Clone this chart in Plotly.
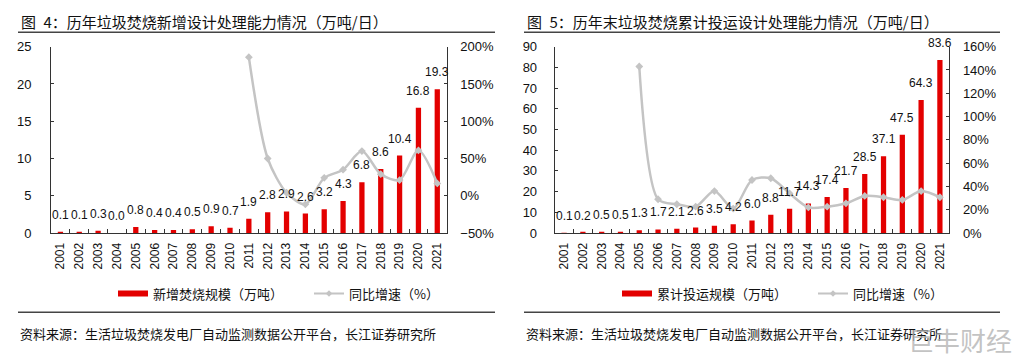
import plotly.graph_objects as go

W, H = 1024, 364
OFF = 8  # page body margin offset in the rendered page

years = [str(y) for y in range(2001, 2022)]

# Figure 4: newly added design capacity (万吨/日)
new_cap = [0.1, 0.1, 0.3, 0.0, 0.8, 0.4, 0.4, 0.5, 0.9, 0.7, 1.9, 2.8, 2.9, 2.6,
           3.2, 4.3, 6.8, 8.6, 10.4, 16.8, 19.3]
new_growth = [None, None, None, None, None, None, None, None, None, None,
              186, 50, 4, -11.5, 24, 35, 60, 29, 21, 61, 16.5]

# Figure 5: cumulative operating design capacity (万吨/日)
cum_cap = [0.1, 0.2, 0.5, 0.5, 1.3, 1.7, 2.1, 2.6, 3.5, 4.2, 6.0, 8.8, 11.7, 14.3,
           17.4, 21.7, 28.5, 37.1, 47.5, 64.3, 83.6]
cum_growth = [None, None, None, None, 143, 29, 24.7, 22.6, 36, 21, 45.5, 47, 34,
              22, 22.6, 25.5, 31.8, 30.7, 28.4, 36, 30.7]

titles = ["图\u20024：历年垃圾焚烧新增设计处理能力情况（万吨/日）",
          "图\u20025：历年末垃圾焚烧累计投运设计处理能力情况（万吨/日）"]
bar_names = ["新增焚烧规模（万吨）", "累计投运规模（万吨）"]
line_name = "同比增速（%）"
source = "资料来源：生活垃圾焚烧发电厂自动监测数据公开平台，长江证券研究所"

RED = "#E30000"
GRAY = "#C4C4C4"
NUMFONT = "Liberation Sans, Arial, sans-serif"
CJK = "Noto Sans CJK SC, sans-serif"

def px(x):
    return (x - OFF) / W

def py(y):
    return 1 - (y - OFF) / H

fig = go.Figure()

panels = [
    dict(bars=new_cap, growth=new_growth, xa="x", ya="y", ya2="y2", legend="legend"),
    dict(bars=cum_cap, growth=cum_growth, xa="x2", ya="y3", ya2="y4", legend="legend2"),
]

annotations = []
for i, p in enumerate(panels):
    fig.add_trace(go.Bar(
        x=years, y=p["bars"], xaxis=p["xa"], yaxis=p["ya"],
        marker=dict(color=RED, line=dict(width=0)), width=0.28,
        showlegend=False, hoverinfo="x+y",
    ))
    # value labels above bars (x given as category index)
    for k, v in enumerate(p["bars"]):
        annotations.append(dict(
            x=k, y=v, xref=p["xa"], yref=p["ya"], text=f"{v:.1f}", showarrow=False,
            xanchor="center", yanchor="bottom", yshift=8,
            font=dict(family=NUMFONT, size=12, color="#111111"),
        ))
    fig.add_trace(go.Scatter(
        x=years, y=p["growth"], xaxis=p["xa"], yaxis=p["ya2"],
        mode="lines+markers", line=dict(color=GRAY, width=2.5, shape="spline", smoothing=0.8),
        marker=dict(symbol="diamond", size=6, color=GRAY),
        showlegend=False, connectgaps=False, cliponaxis=False,
    ))
    # legend entries
    fig.add_trace(go.Scatter(
        x=[None], y=[None], xaxis=p["xa"], yaxis=p["ya"], mode="lines",
        line=dict(color=RED, width=6), name=bar_names[i], legend=p["legend"],
    ))
    fig.add_trace(go.Scatter(
        x=[None], y=[None], xaxis=p["xa"], yaxis=p["ya2"], mode="lines+markers",
        line=dict(color=GRAY, width=2), marker=dict(symbol="diamond", size=5, color=GRAY),
        name=line_name, legend=p["legend"],
    ))

ydom = [py(233), py(46.7)]
xdom1 = [px(51), px(446.7)]
xdom2 = [px(554.7), px(949.3)]

tickfont = dict(family=NUMFONT, size=13, color="#111111")
xcommon = dict(type="category", tickangle=-90, showline=True, linecolor="#333333",
               linewidth=1, ticks="inside", ticklen=4, tickcolor="#333333",
               tickson="boundaries", showgrid=False, zeroline=False,
               range=[-0.5, 20.5],
               tickfont=dict(family=NUMFONT, size=12, color="#111111"),
               ticklabelstandoff=4)
ycommon = dict(showline=True, linecolor="#333333", linewidth=1, ticks="inside",
               ticklen=3, tickcolor="#333333", showgrid=False, zeroline=False,
               tickfont=tickfont)

fig.update_layout(
    width=W, height=H, margin=dict(l=0, r=0, t=0, b=0, autoexpand=False),
    paper_bgcolor="white", plot_bgcolor="white", bargap=0.7,
    xaxis=dict(domain=xdom1, anchor="y", **xcommon),
    xaxis2=dict(domain=xdom2, anchor="y3", **xcommon),
    yaxis=dict(domain=ydom, anchor="x", range=[0, 25], dtick=5,
               ticklabelstandoff=16, **ycommon),
    yaxis2=dict(anchor="x", overlaying="y", side="right", range=[-50, 200], dtick=50,
                ticksuffix="%", ticklabelstandoff=10, **ycommon),
    yaxis3=dict(domain=ydom, anchor="x2", range=[0, 90], dtick=10,
                ticklabelstandoff=14, **ycommon),
    yaxis4=dict(anchor="x2", overlaying="y3", side="right", range=[0, 160], dtick=20,
                ticksuffix="%", ticklabelstandoff=10, **ycommon),
    legend=dict(orientation="h", x=px(113), xanchor="left", y=py(293.5), yanchor="middle",
                font=dict(family=CJK, size=13, color="#111111"), bgcolor="rgba(0,0,0,0)",
                entrywidthmode="pixels", entrywidth=151, tracegroupgap=0),
    legend2=dict(orientation="h", x=px(617), xanchor="left", y=py(293.5), yanchor="middle",
                 font=dict(family=CJK, size=13, color="#111111"), bgcolor="rgba(0,0,0,0)",
                 entrywidthmode="pixels", entrywidth=151, tracegroupgap=0),
    showlegend=True,
)

shapes = []
for x0, x1, t in [(18, 495, titles[0]), (524, 1000, titles[1])]:
    shapes.append(dict(type="line", xref="paper", yref="paper", x0=px(x0), x1=px(x1),
                       y0=py(32.3), y1=py(32.3), line=dict(color="#444444", width=1.5)))
    shapes.append(dict(type="line", xref="paper", yref="paper", x0=px(x0), x1=px(x1),
                       y0=py(312.3), y1=py(312.3), line=dict(color="#444444", width=1.5)))
    annotations.append(dict(text=t, xref="paper", yref="paper", x=px(x0 + 1), y=py(21.5),
                            xanchor="left", yanchor="middle", showarrow=False,
                            font=dict(family=CJK, size=15, color="#111111")))
    annotations.append(dict(text=source, xref="paper", yref="paper", x=px(x0), y=py(333),
                            xanchor="left", yanchor="middle", showarrow=False,
                            font=dict(family=CJK, size=13, color="#111111")))

annotations.append(dict(text="巨丰财经", xref="paper", yref="paper", x=px(906), y=py(339),
                        xanchor="left", yanchor="middle", showarrow=False,
                        font=dict(family=CJK, size=26, color="rgba(175,175,175,0.75)")))

fig.update_layout(shapes=shapes, annotations=annotations)

fig.write_html("out.html")
